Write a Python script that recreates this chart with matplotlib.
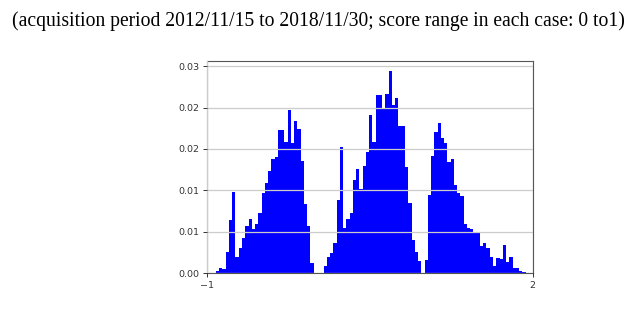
import numpy as np
import matplotlib
matplotlib.use('Agg')
import matplotlib.pyplot as plt

# relative frequency per bin, bins of 0.03 from about -0.915
freq = [0.0003, 0.0006, 0.0005, 0.0026, 0.0064, 0.0098, 0.0020, 0.0030, 0.0042, 0.0057,
        0.0065, 0.0054, 0.0059, 0.0073, 0.0097, 0.0109, 0.0123, 0.0138, 0.0140, 0.0173,
        0.0173, 0.0158, 0.0197, 0.0157, 0.0184, 0.0174, 0.0136, 0.0084, 0.0057, 0.0013,
        0.0, 0.0, 0.0, 0.0009, 0.0020, 0.0025, 0.0037, 0.0088, 0.0152, 0.0055,
        0.0066, 0.0073, 0.0112, 0.0126, 0.0102, 0.0130, 0.0146, 0.0191, 0.0159, 0.0215,
        0.0215, 0.0199, 0.0216, 0.0244, 0.0203, 0.0211, 0.0178, 0.0178, 0.0128, 0.0085,
        0.0040, 0.0026, 0.0015, 0.0, 0.0016, 0.0094, 0.0142, 0.0171, 0.0181, 0.0163,
        0.0157, 0.0134, 0.0138, 0.0106, 0.0097, 0.0093, 0.0060, 0.0055, 0.0053, 0.0050,
        0.0049, 0.0033, 0.0036, 0.0030, 0.0020, 0.0009, 0.0018, 0.0017, 0.0034, 0.0014,
        0.0020, 0.0007, 0.0006, 0.0003, 0.0002]
bin_lo, bin_hi = -0.915, 1.935
edges = np.linspace(bin_lo, bin_hi, len(freq) + 1)

x_ticks = [-1, 2]
x_ticklabels = ['\u22121', '2']
y_ticks = [0.0, 0.005, 0.01, 0.015, 0.02, 0.025]
y_ticklabels = ['0.00', '0.01', '0.01', '0.02', '0.02', '0.03']

caption = '(acquisition period 2012/11/15 to 2018/11/30; score range in each case: 0 to1)'

fig = plt.figure(figsize=(6.37, 3.27), dpi=100)
fig.text(0.5, 0.936, caption, ha='center', va='center',
         family='Liberation Serif', fontsize=14.1, color='black')

ax = fig.add_axes([0.3245, 0.1642, 0.5117, 0.6493])
ax.hist(edges[:-1], bins=edges, weights=freq, color='blue')
ax.set_xlim(-1, 2)

ax.set_xticks(x_ticks)
ax.set_xticklabels(x_ticklabels)
ax.set_yticks(y_ticks)
ax.set_yticklabels(y_ticklabels)
ax.set_ylim(0, max(freq) * 1.05)

# grid sits on top of the bars like in the original
ax.grid(True, color='#cccccc', linewidth=0.9)
ax.set_axisbelow(False)
ax.tick_params(labelsize=6.8, length=3, width=0.7, pad=2.5, colors='#333333')
for s in ax.spines.values():
    s.set_color('#555555')
    s.set_linewidth(0.8)

fig.savefig('out.png', dpi=100)
